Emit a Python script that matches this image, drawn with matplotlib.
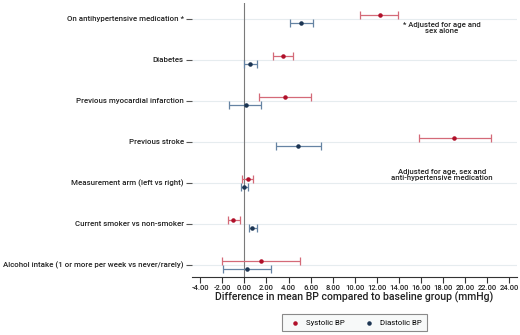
import matplotlib
matplotlib.use("Agg")
import matplotlib.pyplot as plt
import numpy as np

categories = [
    "On antihypertensive medication *",
    "Diabetes",
    "Previous myocardial infarction",
    "Previous stroke",
    "Measurement arm (left vs right)",
    "Current smoker vs non-smoker",
    "Alcohol intake (1 or more per week vs never/rarely)",
]
sys_est = [12.3, 3.5, 3.7, 19.0, 0.3, -1.0, 1.5]
sys_lo = [10.5, 2.6, 1.3, 15.8, -0.2, -1.5, -2.0]
sys_hi = [13.9, 4.4, 6.0, 22.3, 0.8, -0.4, 5.0]
dia_est = [5.1, 0.5, 0.1, 4.9, 0.0, 0.7, 0.2]
dia_lo = [4.1, 0.0, -1.4, 2.9, -0.3, 0.4, -1.9]
dia_hi = [6.2, 1.1, 1.5, 6.9, 0.3, 1.1, 2.4]
xticks = np.arange(-4, 25, 2)

plt.rcParams['font.family'] = ['Roboto', 'DejaVu Sans']

fig = plt.figure(figsize=(5.2, 3.35), dpi=100)
ax = fig.add_axes([192/520, 1-277/335, (517-192)/520, (277-3)/335])

y = np.arange(1, len(categories)+1)
off = 0.1
sys_est_a = np.array(sys_est); dia_est_a = np.array(dia_est)
sys_err = [sys_est_a - np.array(sys_lo), np.array(sys_hi) - sys_est_a]
dia_err = [dia_est_a - np.array(dia_lo), np.array(dia_hi) - dia_est_a]

for yy in y:
    ax.axhline(yy, color='#e6ecef', lw=0.8, zorder=0)
ax.axvline(0, color='#7a7a7a', lw=0.8, zorder=1)

ax.errorbar(sys_est_a, y - off, xerr=sys_err, fmt='none', ecolor='#d46a78',
            elinewidth=0.9, capsize=3, capthick=0.9, zorder=2)
ax.errorbar(dia_est_a, y + off, xerr=dia_err, fmt='none', ecolor='#6583a3',
            elinewidth=0.9, capsize=3, capthick=0.9, zorder=2)
ax.scatter(sys_est_a, y - off, s=5, color='#b0102a', zorder=3, label='Systolic BP')
ax.scatter(dia_est_a, y + off, s=5, color='#1c3553', zorder=3, label='Diastolic BP')

ax.set_ylim(7.3, 0.61)
ax.set_xlim(-4.75, 24.7)
ax.set_yticks(y)
ax.set_yticklabels(categories, fontsize=5.7, fontweight='medium', color='#222222')
ax.set_xticks(xticks)
ax.set_xticklabels([f"{v:.2f}" for v in xticks], fontsize=5.5, fontweight='medium', color='#222222')
ax.tick_params(axis='y', length=4, width=0.8, color='#555555', pad=2)
ax.tick_params(axis='x', length=4, width=0.8, color='#333333', pad=2)
for s in ['top', 'right', 'left']:
    ax.spines[s].set_visible(False)
ax.spines['bottom'].set_color('#333333')
ax.spines['bottom'].set_linewidth(0.8)

ax.set_xlabel("Difference in mean BP compared to baseline group (mmHg)", fontsize=7.6,
              fontweight='medium', color='#222222', labelpad=0)

ax.text(17.9, 1.21, "* Adjusted for age and\nsex alone", ha='center', va='center',
        fontsize=5.6, fontweight='medium', color='#222222', linespacing=1.0)
ax.text(17.9, 4.8, "Adjusted for age, sex and\nanti-hypertensive medication", ha='center', va='center',
        fontsize=5.6, fontweight='medium', color='#222222', linespacing=1.0)

leg = ax.legend(loc='center', bbox_to_anchor=(0.5, -0.166), ncol=2, fontsize=5.6,
                frameon=True, fancybox=False, edgecolor='#6e6e6e', facecolor='#f6f8f8',
                handletextpad=0.4, columnspacing=2.2, borderpad=0.7, markerscale=1.0)
leg.get_frame().set_linewidth(0.8)

fig.savefig("out.png", dpi=100)
